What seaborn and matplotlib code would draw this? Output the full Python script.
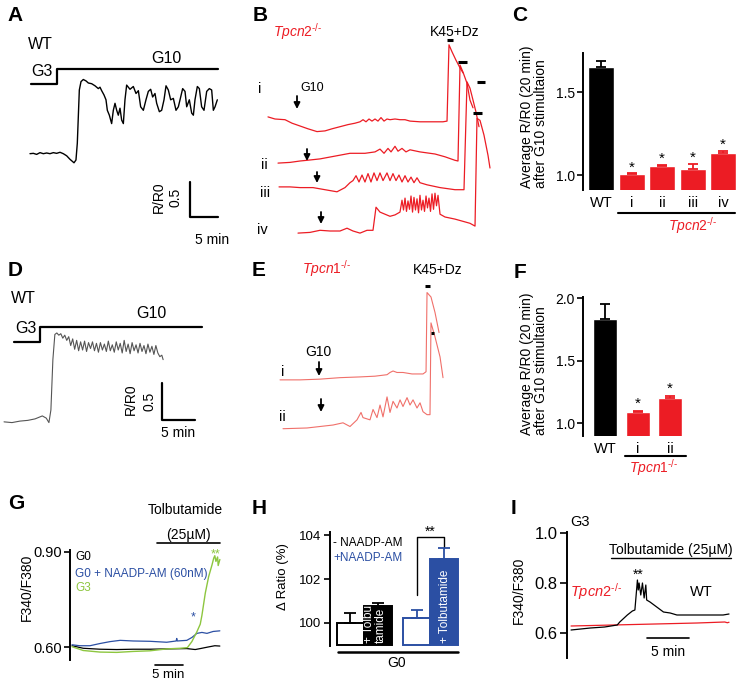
import matplotlib
matplotlib.use("Agg")
import matplotlib.pyplot as plt
import seaborn as sns

RED = "#ec1c24"
RED_LIGHT = "#f0706a"
BLUE = "#2b4fa3"
GREEN = "#8dc63f"

# ---------------- A: WT islet, G3 -> G10 (time in min, R/R0)
a_time = [0.0, 0.6, 1.19, 1.79, 2.38, 2.98, 3.57, 4.17, 4.76, 5.36, 5.95, 6.55, 7.14, 7.86, 8.21,
          8.45, 8.63, 8.81, 9.11, 9.52, 10.0, 10.42, 11.01, 11.61, 12.2, 12.5, 12.8, 13.21, 13.57,
          13.81, 14.17, 14.58, 14.88, 15.18, 15.48, 15.77, 16.07, 16.37, 16.67, 16.96, 17.26, 17.86,
          18.45, 18.93, 19.35, 19.76, 20.24, 20.71, 21.13, 21.55, 21.9, 22.32, 22.62, 23.1, 23.51,
          23.93, 24.29, 24.7, 25.12, 25.6, 26.07, 26.49, 26.79, 27.26, 27.68, 27.98, 28.45, 28.87,
          29.17, 29.46, 29.88, 30.24, 30.65, 31.07, 31.55, 32.02, 32.44, 32.74, 33.04, 33.45]
a_ratio = [0.99, 0.995, 0.98, 1.005, 0.99, 1.0, 0.99, 1.005, 0.995, 1.01, 0.99, 0.96, 0.91, 0.86, 0.9,
           1.14, 1.52, 1.9, 2.02, 2.05, 2.03, 2.0, 1.99, 1.96, 1.92, 1.94, 1.89, 1.83, 1.76,
           1.61, 1.54, 1.42, 1.61, 1.71, 1.61, 1.54, 1.64, 1.47, 1.42, 1.76, 1.97, 1.91,
           1.95, 1.85, 1.89, 1.66, 1.61, 1.76, 1.88, 1.91, 1.8, 1.85, 1.71, 1.59, 1.61,
           1.76, 1.96, 1.9, 1.76, 1.78, 1.61, 1.66, 1.76, 1.92, 1.88, 1.66, 1.76, 1.57,
           1.54, 1.76, 1.95, 1.92, 1.66, 1.61, 1.88, 1.92, 1.9, 1.61, 1.66, 1.76]

# ---------------- B: Tpcn2-/- islets i-iv
b1_time = [2.32, 3.57, 5.36, 6.61, 8.04, 9.46, 11.07, 12.5, 13.75, 15.18, 16.61, 17.86, 18.75, 19.29,
           19.82, 20.36, 20.89, 21.43, 21.96, 22.5, 23.04, 23.57, 24.11, 25.0, 25.89, 26.79, 27.68,
           29.46, 31.25, 33.57, 34.29, 34.64, 35.18, 35.89, 36.61, 37.14]
b1_ratio = [1.0, 0.97, 0.96, 0.91, 0.87, 0.83, 0.79, 0.8, 0.83, 0.86, 0.89, 0.91, 0.93, 0.96,
            0.93, 0.97, 0.94, 0.97, 0.94, 0.99, 0.94, 0.97, 0.96, 0.97, 0.96, 0.96, 0.94,
            0.93, 0.93, 0.93, 0.94, 2.03, 1.93, 1.81, 1.7, 1.63]
b2_time = [4.11, 6.25, 8.04, 9.29, 11.61, 14.29, 16.96, 19.64, 21.43, 22.32, 23.04, 23.75, 24.29,
           25.0, 25.54, 26.25, 26.96, 27.68, 29.46, 32.14, 33.93, 35.71, 36.25, 36.61, 37.14,
           37.86, 38.39, 38.93]
b2_ratio = [1.0, 1.01, 1.03, 1.04, 1.06, 1.1, 1.14, 1.14, 1.16, 1.2, 1.14, 1.21, 1.16,
            1.24, 1.17, 1.21, 1.16, 1.19, 1.16, 1.13, 1.09, 1.04, 1.03, 2.4, 2.3,
            2.14, 1.9, 1.79]
b3_time = [4.29, 6.25, 8.04, 10.36, 12.5, 14.64, 16.07, 16.96, 17.5, 18.04, 18.57, 19.11, 19.64,
           20.18, 20.71, 21.25, 21.79, 22.32, 22.86, 23.57, 24.11, 24.64, 25.18, 25.71, 26.25,
           26.79, 27.32, 27.86, 28.39, 28.93, 29.46, 30.71, 33.04, 35.71, 37.32, 37.86, 38.39,
           38.93, 39.46, 40.0]
b3_ratio = [1.0, 1.0, 0.99, 0.99, 0.96, 0.93, 0.99, 1.06, 1.09, 1.16, 1.07, 1.17, 1.07,
            1.19, 1.07, 1.2, 1.09, 1.2, 1.09, 1.2, 1.09, 1.19, 1.09, 1.17, 1.07,
            1.16, 1.07, 1.14, 1.06, 1.13, 1.06, 1.03, 0.99, 0.96, 0.96, 2.5, 2.41,
            2.24, 2.07, 1.86]
b4_time = [7.68, 9.82, 11.61, 13.39, 15.18, 16.43, 17.5, 18.75, 20.0, 21.07, 21.61, 22.32, 23.21,
           24.11, 25.0, 25.89, 26.25, 26.52, 26.79, 27.05, 27.32, 27.59, 27.86, 28.13, 28.39,
           28.66, 28.93, 29.2, 29.46, 29.73, 30.0, 30.27, 30.54, 30.8, 31.07, 31.34, 31.61,
           31.88, 32.14, 32.41, 32.68, 33.04, 33.93, 35.71, 37.5, 38.39, 39.29, 39.64, 40.18,
           40.89, 41.61, 41.96]
b4_ratio = [1.0, 1.01, 1.04, 1.03, 1.03, 1.07, 1.03, 1.0, 1.04, 1.04, 1.37, 1.3, 1.27,
            1.24, 1.26, 1.3, 1.47, 1.33, 1.5, 1.31, 1.46, 1.34, 1.53, 1.3, 1.51,
            1.33, 1.49, 1.29, 1.54, 1.33, 1.47, 1.31, 1.53, 1.36, 1.5, 1.31, 1.56,
            1.34, 1.57, 1.39, 1.54, 1.27, 1.23, 1.2, 1.16, 1.14, 1.1, 2.64, 2.61,
            2.4, 2.11, 1.93]
b_offsets = [0.83, 0.17, -0.17, -0.83]
b_numerals = ["i", "ii", "iii", "iv"]

# ---------------- C: average R/R0 after G10
c_groups = ["WT", "i", "ii", "iii", "iv"]
c_means = [1.65, 1.005, 1.054, 1.036, 1.13]
c_sem = [0.037, 0.005, 0.008, 0.03, 0.015]

# ---------------- D: WT islet
d_time = [0, 1.2, 2.4, 3.6, 4.7, 5.8, 6.4, 6.8, 7.1, 7.4, 7.7,
          8.0, 8.3, 8.6, 8.9, 9.2, 9.5, 9.8, 10.1, 10.4, 10.7, 11.0, 11.3, 11.6, 11.9, 12.2, 12.5,
          12.8, 13.1, 13.4, 13.7, 14.0, 14.3, 14.6, 14.9, 15.2, 15.5, 15.8, 16.1, 16.4, 16.7, 17.0,
          17.3, 17.6, 17.9, 18.2, 18.5, 18.8, 19.1, 19.4, 19.7, 20.0, 20.3, 20.6, 20.9, 21.2, 21.5,
          21.8, 22.1, 22.4, 22.7, 23.0, 23.3, 23.6, 23.9, 24.1]
d_ratio = [1.0, 0.99, 1.01, 1.02, 1.04, 1.08, 1.05, 0.99, 1.16, 1.84, 2.18,
           2.2, 2.17, 2.19, 2.13, 2.17, 2.1, 2.15, 2.03, 2.12, 1.98, 2.1, 1.96, 2.08, 1.97, 2.09, 1.95,
           2.07, 1.99, 2.08, 1.96, 2.06, 1.94, 2.07, 1.97, 2.05, 1.95, 2.09, 1.96, 2.04, 1.94, 2.08,
           1.97, 2.06, 1.93, 2.1, 1.95, 2.05, 1.92, 2.07, 1.96, 2.04, 1.93, 2.06, 1.95, 2.03, 1.92,
           2.05, 1.94, 2.02, 1.91, 2.03, 1.93, 1.88, 1.9, 1.84]

# ---------------- E: Tpcn1-/- islets
e1_time = [1.52, 4.55, 7.58, 10.61, 13.64, 15.91, 17.73, 18.18, 18.64, 19.24, 20.15, 21.52, 23.18,
           23.64, 23.79, 24.39, 25.0, 25.61]
e1_ratio = [1.0, 1.0, 1.01, 1.03, 1.04, 1.05, 1.07, 1.1, 1.12, 1.1, 1.1, 1.08, 1.08,
            1.11, 2.18, 2.12, 1.91, 1.64]
e2_time = [1.97, 5.61, 7.58, 9.55, 11.06, 12.12, 13.18, 13.79, 14.09, 15.15, 15.61, 16.21, 16.67,
           17.12, 17.73, 18.18, 18.64, 19.24, 19.7, 20.15, 20.76, 21.21, 21.67, 22.27, 22.73,
           23.18, 23.79, 24.24, 24.39, 25.0, 25.76, 26.21]
e2_ratio = [1.0, 1.01, 1.03, 1.05, 1.08, 1.03, 1.12, 1.22, 1.15, 1.12, 1.26, 1.15, 1.32,
            1.16, 1.43, 1.22, 1.37, 1.28, 1.39, 1.3, 1.42, 1.32, 1.39, 1.28, 1.35,
            1.23, 1.19, 1.19, 2.43, 2.24, 1.97, 1.69]
e_offsets = [-0.12, -0.78]

# ---------------- F: average R/R0 after G10
f_groups = ["WT", "i", "ii"]
f_means = [1.83, 1.088, 1.2]
f_sem = [0.12, 0.01, 0.018]

# ---------------- G: Fura-2 ratio, tolbutamide
g0_time = [0, 2.0, 5.0, 8.0, 10.9, 13.9, 16.9, 20.5, 22.0, 22.9, 24.3, 25.5, 26.4]
g0_ratio = [0.604, 0.596, 0.593, 0.592, 0.593, 0.593, 0.594, 0.595, 0.592, 0.595, 0.6, 0.604, 0.603]
naadp_time = [0, 1.4, 3.2, 5.0, 6.8, 8.6, 10.9, 13.9, 16.9, 18.6, 18.7, 18.8, 20.5, 21.4, 22.3,
              23.2, 24.1, 25.2, 26.4]
naadp_ratio = [0.607, 0.604, 0.604, 0.611, 0.617, 0.621, 0.619, 0.618, 0.615, 0.619, 0.627, 0.619,
               0.621, 0.63, 0.643, 0.646, 0.643, 0.649, 0.651]
g3_time = [0, 2.0, 5.0, 8.0, 10.9, 13.9, 16.9, 19.3, 20.6, 21.4, 22.3, 22.9, 23.2, 23.8, 24.4,
           25.0, 25.3, 25.5, 25.7, 26.0, 26.1, 26.4]
g3_ratio = [0.601, 0.589, 0.584, 0.583, 0.586, 0.588, 0.594, 0.596, 0.598, 0.617, 0.648, 0.672,
            0.7, 0.77, 0.822, 0.859, 0.88, 0.888, 0.87, 0.884, 0.857, 0.876]

# ---------------- H: delta ratio
h_pos = [0, 1, 2.4, 3.4]
h_vals = [100.0, 100.77, 100.23, 102.91]
h_sem = [0.45, 0.14, 0.36, 0.5]
h_face = ["white", "black", "white", BLUE]
h_edge = ["black", "black", BLUE, BLUE]

# ---------------- I: G3, tolbutamide
i_wt_time = [0, 2.3, 4.0, 5.5, 5.8, 6.7, 7.3, 7.6, 7.9, 8.0, 8.1, 8.3, 8.5, 8.7, 8.9, 9.0, 9.4,
             10.2, 11.0, 11.8, 12.6, 14.2, 16.2, 18.1, 18.8]
i_wt_ratio = [0.612, 0.62, 0.624, 0.632, 0.644, 0.672, 0.688, 0.692, 0.812, 0.772, 0.8, 0.752,
              0.8, 0.74, 0.792, 0.732, 0.724, 0.704, 0.684, 0.68, 0.672, 0.672, 0.672, 0.672, 0.676]
i_ko_time = [0, 5, 10, 15, 18.3, 18.6, 18.8]
i_ko_ratio = [0.628, 0.632, 0.636, 0.64, 0.644, 0.641, 0.643]

# ======================================================================
sns.set_theme(style="white")
plt.rcParams["font.family"] = ["Liberation Sans", "DejaVu Sans"]
plt.rcParams["mathtext.fontset"] = "custom"
plt.rcParams["mathtext.rm"] = "Liberation Sans"
plt.rcParams["mathtext.it"] = "Liberation Sans:italic"
plt.rcParams["text.color"] = "black"
plt.rcParams["axes.edgecolor"] = "black"
plt.rcParams["ytick.color"] = "black"
plt.rcParams["xtick.color"] = "black"

W, H = 739, 685
fig = plt.figure(figsize=(W / 100, H / 100), dpi=100)


def px_axes(x0, y0, x1, y1):
    ax = fig.add_axes([x0 / W, 1 - y1 / H, (x1 - x0) / W, (y1 - y0) / H])
    ax.patch.set_visible(False)
    return ax


ov = px_axes(0, 0, W, H)
ov.set_xlim(0, W)
ov.set_ylim(H, 0)
ov.set_axis_off()
ov.set_zorder(5)


def label(x, y, s, size=10, **kw):
    kw.setdefault("ha", "center")
    kw.setdefault("va", "center")
    ov.text(x, y, s, fontsize=size, **kw)


def arrow(x, y0, y1):
    ov.annotate("", xy=(x, y1), xytext=(x, y0),
                arrowprops=dict(arrowstyle="-|>", color="black", lw=1.3,
                                mutation_scale=9, shrinkA=0, shrinkB=0))


def trace(ax, t, r, color, lw, offset=0.0):
    sns.lineplot(x=t, y=[v + offset for v in r], ax=ax, color=color, lw=lw,
                 sort=False, estimator=None)


def tpcn(n):
    return "$\\mathit{Tpcn%d}^{\\mathrm{\u2010/\u2010}}$" % n


# panel letters
for s, x, y in [("A", 15, 15), ("B", 260, 15), ("C", 520, 15),
                ("D", 15, 270), ("E", 259, 270), ("F", 520, 272),
                ("G", 16, 503), ("H", 259, 509), ("I", 514, 509)]:
    label(x, y, s, size=15, fontweight="bold")

# ---- A
axA = px_axes(25, 55, 225, 250)
trace(axA, a_time, a_ratio, "black", 1.0)
axA.plot([0.2, 4.8, 4.8, 33.6], [1.99, 1.99, 2.2, 2.2], color="black", lw=1.6)
axA.plot([28.6, 28.6, 33.6], [0.586, 0.086, 0.086], color="black", lw=1.6)
axA.set_xlim(-0.89, 34.82)
axA.set_ylim(-0.386, 2.4)
axA.set_axis_off()
label(40, 44, "WT", 11.5)
label(42, 71, "G3", 11.5)
label(166, 58, "G10", 11.5)
label(159, 197, "R/R0", 10, rotation=90)
label(176, 197, "0.5", 10, rotation=90)
label(212, 240, "5 min", 10)

# ---- B
axB = px_axes(255, 35, 500, 245)
b_traces = [(b1_time, b1_ratio), (b2_time, b2_ratio), (b3_time, b3_ratio), (b4_time, b4_ratio)]
for (t, r), off in zip(b_traces, b_offsets):
    trace(axB, t, r, RED, 0.9, off)
for (t0, t1, lvl), off in zip([(34.3, 35.4, 2.1), (36.3, 37.9, 2.44), (39.6, 41.1, 2.5),
                               (38.9, 40.5, 2.71)], b_offsets):
    axB.plot([t0, t1], [lvl + off, lvl + off], color="black", lw=2.2, solid_capstyle="butt")
axB.set_xlim(0, 43.75)
axB.set_ylim(0, 3.0)
axB.set_axis_off()
label(273, 32, tpcn(2), 10, ha="left", color=RED)
label(455, 32, "K45+Dz", 10)
label(312, 88, "G10", 9)
for s, x, y in zip(b_numerals, [260, 264, 265, 262], [89, 165, 193, 230]):
    label(x, y, s, 10.5)
for x, y0, y1 in [(297, 96, 109), (307, 149, 161), (317, 172, 183), (321, 212, 224)]:
    arrow(x, y0, y1)


# ---- bar chart helper
def bars(ax, groups, means, sem, colors, width, star_gap):
    sns.barplot(x=groups, y=means, hue=groups, palette=colors, saturation=1, width=width,
                errorbar=None, legend=False, ax=ax)
    for k, (m, e, col) in enumerate(zip(means, sem, colors)):
        ax.errorbar(k, m, yerr=[[0], [e]], fmt="none", ecolor=col, elinewidth=1.3,
                    capsize=3.5, capthick=1.3, zorder=3)
        if k > 0:
            ax.text(k, m + e + star_gap, "*", ha="center", va="baseline", fontsize=11)
    sns.despine(ax=ax, bottom=True)
    ax.spines["left"].set_linewidth(1.4)
    ax.tick_params(axis="y", left=True, length=4, width=1.2, labelsize=10, pad=2)
    ax.tick_params(axis="x", bottom=False, length=0, labelsize=10.5, pad=4)
    ax.set_xlabel("")
    ax.set_ylabel("")


# ---- C
axC = px_axes(583, 53, 739, 190)
bars(axC, c_groups, c_means, c_sem, ["black"] + [RED] * 4, 0.85, 0.012)
axC.set_xlim(-0.59, 4.52)
axC.set_ylim(0.91, 1.735)
axC.set_yticks([1.0, 1.5])
axC.set_yticklabels(["1.0", "1.5"])
ov.plot([618, 735], [213, 213], color="black", lw=1.5)
label(693, 226, tpcn(2), 10, color=RED)
label(534, 188, "Average R/R0 (20 min)\nafter G10 stimultaion", 10, rotation=90,
      va="bottom", multialignment="left", linespacing=1.0)

# ---- D
axD = px_axes(0, 290, 210, 450)
trace(axD, d_time, d_ratio, "#555555", 0.8)
axD.plot([1.5, 5.45, 5.45, 30.0], [2.08, 2.08, 2.28, 2.28], color="black", lw=1.6)
axD.plot([23.9, 23.9, 28.9], [1.527, 1.027, 1.027], color="black", lw=1.6)
axD.set_xlim(-0.61, 31.2)
axD.set_ylim(0.62, 2.78)
axD.set_axis_off()
label(23, 298, "WT", 11.5)
label(151, 313, "G10", 11.5)
label(26, 328, "G3", 11.5)
label(131, 399, "R/R0", 10, rotation=90)
label(150, 401, "0.5", 10, rotation=90)
label(178, 433, "5 min", 10)

# ---- E
axE = px_axes(270, 285, 450, 445)
for (t, r), off in zip([(e1_time, e1_ratio), (e2_time, e2_ratio)], e_offsets):
    trace(axE, t, r, RED_LIGHT, 0.8, off)
for (t0, t1, lvl), off in zip([(23.5, 24.2, 2.27), (24.4, 24.85, 2.3)], e_offsets):
    axE.plot([t0, t1], [lvl + off, lvl + off], color="black", lw=2.2, solid_capstyle="butt")
axE.set_xlim(0, 27.27)
axE.set_ylim(0, 2.162)
axE.set_axis_off()
label(302, 269, tpcn(1), 10, ha="left", color=RED)
label(438, 270, "K45+Dz", 10)
label(318, 352, "G10", 10)
label(283, 372, "i", 10.5)
label(282, 417, "ii", 10.5)
arrow(319, 362, 376)
arrow(321, 399, 412)

# ---- F
axF = px_axes(583, 297, 739, 436)
bars(axF, f_groups, f_means, f_sem, ["black", RED, RED], 0.74, 0.022)
axF.set_xlim(-0.68, 4.12)
axF.set_ylim(0.896, 2.008)
axF.set_yticks([1.0, 1.5, 2.0])
axF.set_yticklabels(["1.0", "1.5", "2.0"])
ov.plot([625, 686], [456, 456], color="black", lw=1.5)
label(654, 468, tpcn(1), 10, color=RED)
label(534, 435, "Average R/R0 (20 min)\nafter G10 stimultaion", 10, rotation=90,
      va="bottom", multialignment="left", linespacing=1.0)

# ---- G
axG = px_axes(70, 550, 225, 660)
trace(axG, g0_time, g0_ratio, "black", 0.9)
trace(axG, naadp_time, naadp_ratio, BLUE, 0.9)
trace(axG, g3_time, g3_ratio, GREEN, 1.0)
axG.plot([15.2, 26.4], [0.928, 0.928], color="black", lw=1.2, clip_on=False)
axG.plot([14.8, 19.8], [0.543, 0.543], color="black", lw=1.2, clip_on=False)
axG.text(21.6, 0.683, "*", color=BLUE, ha="center", va="baseline", fontsize=9)
axG.text(25.6, 0.881, "**", color=GREEN, ha="center", va="baseline", fontsize=9)
axG.set_xlim(-0.36, 27.32)
axG.set_ylim(0.559, 0.906)
axG.set_yticks([0.6, 0.9])
axG.set_yticklabels(["0.60", "0.90"])
axG.set_xticks([])
sns.despine(ax=axG, bottom=True)
axG.spines["left"].set_linewidth(1.4)
axG.tick_params(axis="y", left=True, length=4, width=1.2, labelsize=10.5, pad=2)
axG.set_xlabel("")
axG.set_ylabel("")
label(27, 587, "F340/F380", 10, rotation=90)
label(75, 557, "G0", 8.5, ha="left")
label(75, 574, "G0 + NAADP-AM (60nM)", 8.5, ha="left", color=BLUE)
label(75, 588, "G3", 8.5, ha="left", color=GREEN)
label(185, 510, "Tolbutamide", 10)
label(188, 535, "(25µM)", 10)
label(168, 675, "5 min", 9.5)

# ---- H
axH = px_axes(330, 532, 470, 646)
sns.barplot(x=h_pos, y=h_vals, native_scale=True, orient="x", width=1.0, color="white",
            errorbar=None, ax=axH)
h_base = 98.98
for p, v, fc, ec in zip(sorted(axH.patches, key=lambda q: q.get_x()), h_vals, h_face, h_edge):
    p.set_facecolor(fc)
    p.set_edgecolor(ec)
    p.set_linewidth(1.4)
    p.set_y(h_base)
    p.set_height(v - h_base)
for x, v, e, ec in zip(h_pos, h_vals, h_sem, h_edge):
    axH.errorbar(x, v, yerr=[[0], [e]], fmt="none", ecolor=ec, elinewidth=1.3,
                 capsize=4, capthick=1.3, zorder=3)
axH.text(h_pos[1] - 0.1, h_base + 0.12, "+ Tolbu\ntamide", rotation=90, color="white",
         ha="center", va="bottom", fontsize=8.5, multialignment="left", linespacing=0.95)
axH.text(h_pos[3] + 0.05, h_base + 0.12, "+ Tolbutamide", rotation=90, color="white",
         ha="center", va="bottom", fontsize=8.5)
axH.plot([2.4, 2.4, 3.4, 3.4], [101.27, 103.91, 103.91, 103.41], color="black", lw=1.0,
         clip_on=False)
axH.text(2.9, 103.98, "**", ha="center", va="baseline", fontsize=10)
axH.set_xlim(-0.745, 4.345)
axH.set_ylim(98.95, 104.14)
axH.set_yticks([100, 102, 104])
axH.set_xticks([])
sns.despine(ax=axH, bottom=True)
axH.spines["left"].set_linewidth(1.4)
axH.tick_params(axis="y", left=True, length=4, width=1.2, labelsize=9.5, pad=2)
axH.set_xlabel("")
axH.set_ylabel("")
label(283, 577, "Δ Ratio (%)", 9.5, rotation=90)
label(333, 543, "- NAADP-AM", 8.5, ha="left")
label(333, 558, "+NAADP-AM", 8.5, ha="left", color=BLUE)
ov.plot([338, 458], [652, 652], color="black", lw=1.8)
label(397, 663, "G0", 10)

# ---- I
axI = px_axes(567, 532, 739, 658)
trace(axI, i_ko_time, i_ko_ratio, RED, 0.9)
trace(axI, i_wt_time, i_wt_ratio, "black", 0.9)
axI.plot([4.76, 19.05], [0.9, 0.9], color="black", lw=1.0, clip_on=False)
axI.plot([9.05, 14.05], [0.58, 0.58], color="black", lw=1.2, clip_on=False)
axI.text(8.0, 0.815, "**", ha="center", va="baseline", fontsize=10)
axI.set_xlim(-0.48, 19.99)
axI.set_ylim(0.5, 1.004)
axI.set_yticks([0.6, 0.8, 1.0])
axI.set_yticklabels(["0.6", "0.8", "1.0"])
axI.set_xticks([])
sns.despine(ax=axI, bottom=True)
axI.spines["left"].set_linewidth(1.4)
axI.tick_params(axis="y", left=True, length=5, width=1.2, labelsize=12, pad=2)
axI.set_xlabel("")
axI.set_ylabel("")
label(519, 590, "F340/F380", 10, rotation=90)
label(580, 522, "G3", 10.5)
label(671, 550, "Tolbutamide (25µM)", 10)
label(596, 592, tpcn(2), 10.5, color=RED)
label(701, 592, "WT", 10.5)
label(668, 652, "5 min", 10)

fig.savefig("out.png", dpi=100)
